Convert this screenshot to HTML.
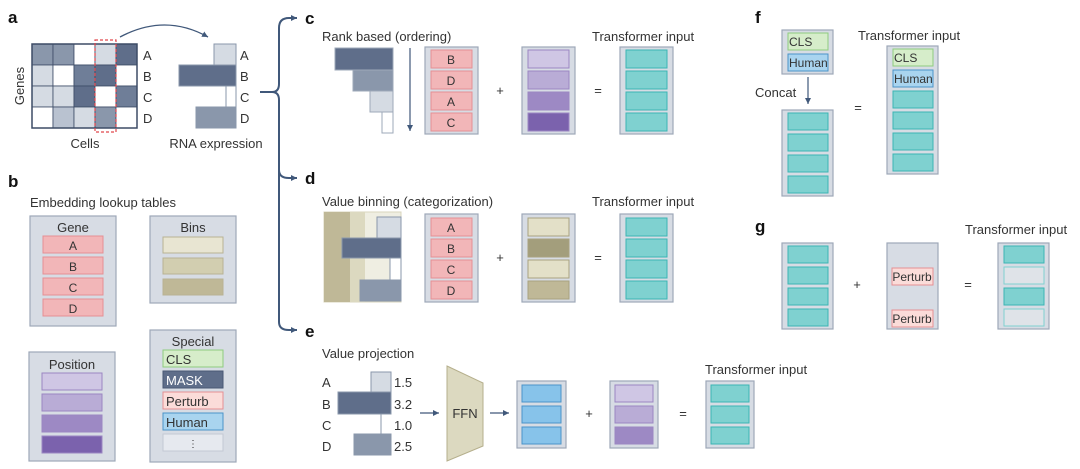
<!DOCTYPE html>
<html><head><meta charset="utf-8"><style>
html,body{margin:0;padding:0;background:#fff}
svg{display:block}
text{font-family:"Liberation Sans",sans-serif;fill:#333}
.t{font-size:13px}
.L{font-size:17px;font-weight:bold;fill:#111}
.box{fill:#d7dce4;stroke:#9ea8b8;stroke-width:1.2}
.pk{fill:#f2b6b8;stroke:#e58f93;stroke-width:1}
.tl{fill:#7fd1d0;stroke:#3bb5b3;stroke-width:1}
.s{font-size:12px;text-anchor:middle}
</style></head><body>
<svg width="1080" height="469" viewBox="0 0 1080 469" xmlns="http://www.w3.org/2000/svg">
<defs><marker id="ar" markerUnits="userSpaceOnUse" markerWidth="8" markerHeight="8" refX="6" refY="4" orient="auto"><path d="M0,1 L6,4 L0,7 z" fill="#40587a"/></marker></defs>

<!-- a -->
<text x="8" y="23" class="L">a</text>
<g stroke="#3d4c66" stroke-width="0.8">
<rect x="32" y="44" width="21" height="21" fill="#8a97ab"/><rect x="53" y="44" width="21" height="21" fill="#8a97ab"/><rect x="74" y="44" width="21" height="21" fill="#fff"/><rect x="95" y="44" width="21" height="21" fill="#d5dbe3"/><rect x="116" y="44" width="21" height="21" fill="#5f6e8a"/>
<rect x="32" y="65" width="21" height="21" fill="#d5dbe3"/><rect x="53" y="65" width="21" height="21" fill="#fff"/><rect x="74" y="65" width="21" height="21" fill="#6f7e98"/><rect x="95" y="65" width="21" height="21" fill="#5f6e8a"/><rect x="116" y="65" width="21" height="21" fill="#fff"/>
<rect x="32" y="86" width="21" height="21" fill="#d5dbe3"/><rect x="53" y="86" width="21" height="21" fill="#d5dbe3"/><rect x="74" y="86" width="21" height="21" fill="#5f6e8a"/><rect x="95" y="86" width="21" height="21" fill="#fff"/><rect x="116" y="86" width="21" height="21" fill="#6f7e98"/>
<rect x="32" y="107" width="21" height="21" fill="#fff"/><rect x="53" y="107" width="21" height="21" fill="#b9c2d0"/><rect x="74" y="107" width="21" height="21" fill="#d5dbe3"/><rect x="95" y="107" width="21" height="21" fill="#8a97ab"/><rect x="116" y="107" width="21" height="21" fill="#fff"/>
</g>
<rect x="32" y="44" width="105" height="84" fill="none" stroke="#3d4c66" stroke-width="1.5"/>
<rect x="95" y="40" width="21" height="92" fill="none" stroke="#e0474c" stroke-width="1.2" stroke-dasharray="3,2"/>
<text x="143" y="60" class="t">A</text><text x="143" y="81" class="t">B</text><text x="143" y="102" class="t">C</text><text x="143" y="123" class="t">D</text>
<text x="24" y="86" class="t" transform="rotate(-90 24 86)" text-anchor="middle">Genes</text>
<text x="85" y="148" class="t" text-anchor="middle">Cells</text>
<path d="M120,37 Q165,13 208,37" fill="none" stroke="#40587a" stroke-width="1.3" marker-end="url(#ar)"/>
<g stroke="#8a97ab" stroke-width="1">
<rect x="214" y="44" width="22" height="21" fill="#d5dbe3"/>
<rect x="179" y="65" width="57" height="21" fill="#5f6e8a"/>
<rect x="226" y="86" width="10" height="21" fill="#fff"/>
<rect x="196" y="107" width="40" height="21" fill="#8a97ab"/>
</g>
<text x="240" y="60" class="t">A</text><text x="240" y="81" class="t">B</text><text x="240" y="102" class="t">C</text><text x="240" y="123" class="t">D</text>
<text x="216" y="148" class="t" text-anchor="middle">RNA expression</text>

<!-- brace -->
<g fill="none" stroke="#40587a" stroke-width="2">
<path d="M260,92 L272,92 Q279,92 279,84 L279,28 Q279,18 289,18 L297,18" marker-end="url(#ar)"/>
<path d="M272,92 Q279,92 279,100 L279,170 Q279,178 289,178 L297,178" marker-end="url(#ar)"/>
<path d="M279,170 L279,322 Q279,330 289,330 L297,330" marker-end="url(#ar)"/>
</g>

<!-- c -->
<text x="305" y="24" class="L">c</text>
<text x="322" y="41" class="t">Rank based (ordering)</text>
<g stroke="#9ea8b8" stroke-width="1">
<rect x="335" y="48" width="58" height="22" fill="#5f6e8a"/>
<rect x="353" y="70" width="40" height="21" fill="#8a97ab"/>
<rect x="370" y="91" width="23" height="21" fill="#d5dbe3"/>
<rect x="382" y="112" width="11" height="21" fill="#fff"/>
</g>
<line x1="410" y1="48" x2="410" y2="131" stroke="#40587a" stroke-width="1.2" marker-end="url(#ar)"/>
<rect x="425" y="47" width="53" height="87" class="box"/>
<rect x="431" y="50" width="41" height="18" class="pk"/><rect x="431" y="71" width="41" height="18" class="pk"/><rect x="431" y="92" width="41" height="18" class="pk"/><rect x="431" y="113" width="41" height="18" class="pk"/>
<text x="451" y="64" class="s">B</text><text x="451" y="85" class="s">D</text><text x="451" y="106" class="s">A</text><text x="451" y="127" class="s">C</text>
<text x="500" y="95" class="t" text-anchor="middle">+</text>
<rect x="522" y="47" width="53" height="87" class="box"/>
<g stroke="#9b86c2" stroke-width="1"><rect x="528" y="50" width="41" height="18" fill="#cfc6e4"/><rect x="528" y="71" width="41" height="18" fill="#b9acd6"/><rect x="528" y="92" width="41" height="18" fill="#9d89c4"/><rect x="528" y="113" width="41" height="18" fill="#7b62ad"/></g>
<text x="598" y="95" class="t" text-anchor="middle">=</text>
<text x="592" y="41" class="t">Transformer input</text>
<rect x="620" y="47" width="53" height="87" class="box"/>
<rect x="626" y="50" width="41" height="18" class="tl"/><rect x="626" y="71" width="41" height="18" class="tl"/><rect x="626" y="92" width="41" height="18" class="tl"/><rect x="626" y="113" width="41" height="18" class="tl"/>

<!-- d -->
<text x="305" y="184" class="L">d</text>
<text x="322" y="206" class="t">Value binning (categorization)</text>
<rect x="324" y="212" width="77" height="90" fill="#efeee2" stroke="#d8d5bd"/>
<rect x="324" y="212" width="26" height="90" fill="#bfb897"/>
<rect x="350" y="212" width="15" height="90" fill="#dcd9c0"/>
<g stroke="#8a97ab" stroke-width="1">
<rect x="377" y="217" width="24" height="21" fill="#d5dbe3"/>
<rect x="342" y="238" width="59" height="20" fill="#5f6e8a"/>
<rect x="390" y="258" width="11" height="22" fill="#fff"/>
<rect x="360" y="280" width="41" height="21" fill="#8a97ab"/>
</g>
<rect x="425" y="214" width="53" height="88" class="box"/>
<rect x="431" y="218" width="41" height="18" class="pk"/><rect x="431" y="239" width="41" height="18" class="pk"/><rect x="431" y="260" width="41" height="18" class="pk"/><rect x="431" y="281" width="41" height="18" class="pk"/>
<text x="451" y="232" class="s">A</text><text x="451" y="253" class="s">B</text><text x="451" y="274" class="s">C</text><text x="451" y="295" class="s">D</text>
<text x="500" y="262" class="t" text-anchor="middle">+</text>
<rect x="522" y="214" width="53" height="88" class="box"/>
<g stroke="#a8a27f" stroke-width="1"><rect x="528" y="218" width="41" height="18" fill="#e3e0c8"/><rect x="528" y="239" width="41" height="18" fill="#a39e7c"/><rect x="528" y="260" width="41" height="18" fill="#e3e0c8"/><rect x="528" y="281" width="41" height="18" fill="#bfb897"/></g>
<text x="598" y="262" class="t" text-anchor="middle">=</text>
<text x="592" y="206" class="t">Transformer input</text>
<rect x="620" y="214" width="53" height="88" class="box"/>
<rect x="626" y="218" width="41" height="18" class="tl"/><rect x="626" y="239" width="41" height="18" class="tl"/><rect x="626" y="260" width="41" height="18" class="tl"/><rect x="626" y="281" width="41" height="18" class="tl"/>

<!-- e -->
<text x="305" y="337" class="L">e</text>
<text x="322" y="358" class="t">Value projection</text>
<text x="322" y="387" class="t">A</text><text x="322" y="409" class="t">B</text><text x="322" y="430" class="t">C</text><text x="322" y="451" class="t">D</text>
<g stroke="#8a97ab" stroke-width="1">
<rect x="371" y="372" width="20" height="20" fill="#d5dbe3"/>
<rect x="338" y="392" width="53" height="22" fill="#5f6e8a"/>
<line x1="381" y1="414" x2="381" y2="434"/>
<rect x="354" y="434" width="37" height="21" fill="#8a97ab"/>
</g>
<text x="394" y="387" class="t">1.5</text><text x="394" y="409" class="t">3.2</text><text x="394" y="430" class="t">1.0</text><text x="394" y="451" class="t">2.5</text>
<line x1="420" y1="413" x2="439" y2="413" stroke="#40587a" stroke-width="1.2" marker-end="url(#ar)"/>
<path d="M447,366 L483,383 L483,446 L447,461 Z" fill="#dcd9c0" stroke="#b5af8c"/>
<text x="465" y="418" class="t" text-anchor="middle">FFN</text>
<line x1="490" y1="413" x2="509" y2="413" stroke="#40587a" stroke-width="1.2" marker-end="url(#ar)"/>
<rect x="517" y="381" width="49" height="67" class="box"/>
<g fill="#87c3ea" stroke="#4b93c9"><rect x="522" y="385" width="39" height="17"/><rect x="522" y="406" width="39" height="17"/><rect x="522" y="427" width="39" height="17"/></g>
<text x="589" y="418" class="t" text-anchor="middle">+</text>
<rect x="610" y="381" width="48" height="67" class="box"/>
<g stroke="#9b86c2"><rect x="615" y="385" width="38" height="17" fill="#cfc6e4"/><rect x="615" y="406" width="38" height="17" fill="#b9acd6"/><rect x="615" y="427" width="38" height="17" fill="#9d89c4"/></g>
<text x="683" y="418" class="t" text-anchor="middle">=</text>
<text x="705" y="374" class="t">Transformer input</text>
<rect x="706" y="381" width="48" height="67" class="box"/>
<rect x="711" y="385" width="38" height="17" class="tl"/><rect x="711" y="406" width="38" height="17" class="tl"/><rect x="711" y="427" width="38" height="17" class="tl"/>

<!-- b -->
<text x="8" y="187" class="L">b</text>
<text x="30" y="207" class="t">Embedding lookup tables</text>
<rect x="30" y="216" width="86" height="110" class="box"/>
<text x="73" y="232" class="t" text-anchor="middle">Gene</text>
<rect x="43" y="236" width="60" height="17" class="pk"/><rect x="43" y="257" width="60" height="17" class="pk"/><rect x="43" y="278" width="60" height="17" class="pk"/><rect x="43" y="299" width="60" height="17" class="pk"/>
<text x="73" y="250" class="s">A</text><text x="73" y="271" class="s">B</text><text x="73" y="292" class="s">C</text><text x="73" y="313" class="s">D</text>
<rect x="150" y="216" width="86" height="87" class="box"/>
<text x="193" y="232" class="t" text-anchor="middle">Bins</text>
<g stroke="#b8b293"><rect x="163" y="237" width="60" height="16" fill="#e8e5d2"/><rect x="163" y="258" width="60" height="16" fill="#d2ceb0"/><rect x="163" y="279" width="60" height="16" fill="#bfb897"/></g>
<rect x="29" y="352" width="86" height="109" class="box"/>
<text x="72" y="369" class="t" text-anchor="middle">Position</text>
<g stroke="#9b86c2"><rect x="42" y="373" width="60" height="17" fill="#cfc6e4"/><rect x="42" y="394" width="60" height="17" fill="#b9acd6"/><rect x="42" y="415" width="60" height="17" fill="#9d89c4"/><rect x="42" y="436" width="60" height="17" fill="#7b62ad"/></g>
<rect x="150" y="330" width="86" height="132" class="box"/>
<text x="193" y="346" class="t" text-anchor="middle">Special</text>
<rect x="163" y="350" width="60" height="17" fill="#d6edca" stroke="#8fcc7f"/>
<rect x="163" y="371" width="60" height="17" fill="#5f6e8a" stroke="#4a5874"/>
<rect x="163" y="392" width="60" height="17" fill="#fbdcd9" stroke="#e58f93"/>
<rect x="163" y="413" width="60" height="17" fill="#a9d4ef" stroke="#4b93c9"/>
<rect x="163" y="434" width="60" height="17" fill="#e6e9ef" stroke="#c3c9d3"/>
<text x="166" y="364" class="t">CLS</text>
<text x="166" y="385" class="t" style="fill:#fff">MASK</text>
<text x="166" y="406" class="t">Perturb</text>
<text x="166" y="427" class="t">Human</text>
<text x="193" y="447" class="s" style="font-size:10px">⋮</text>

<!-- f -->
<text x="755" y="23" class="L">f</text>
<rect x="782" y="30" width="51" height="44" class="box"/>
<rect x="788" y="33" width="40" height="17" fill="#d6edca" stroke="#8fcc7f"/>
<rect x="788" y="54" width="40" height="17" fill="#a9d4ef" stroke="#4b93c9"/>
<text x="789" y="46" class="t" style="font-size:12px">CLS</text>
<text x="789" y="67" class="t" style="font-size:12px">Human</text>
<line x1="808" y1="77" x2="808" y2="104" stroke="#40587a" stroke-width="1.2" marker-end="url(#ar)"/>
<text x="755" y="97" class="t">Concat</text>
<rect x="782" y="110" width="51" height="86" class="box"/>
<rect x="788" y="113" width="40" height="17" class="tl"/><rect x="788" y="134" width="40" height="17" class="tl"/><rect x="788" y="155" width="40" height="17" class="tl"/><rect x="788" y="176" width="40" height="17" class="tl"/>
<text x="858" y="112" class="t" text-anchor="middle">=</text>
<text x="858" y="40" class="t">Transformer input</text>
<rect x="887" y="46" width="51" height="128" class="box"/>
<rect x="893" y="49" width="40" height="17" fill="#d6edca" stroke="#8fcc7f"/>
<rect x="893" y="70" width="40" height="17" fill="#a9d4ef" stroke="#4b93c9"/>
<text x="894" y="62" class="t" style="font-size:12px">CLS</text>
<text x="894" y="83" class="t" style="font-size:12px">Human</text>
<rect x="893" y="91" width="40" height="17" class="tl"/><rect x="893" y="112" width="40" height="17" class="tl"/><rect x="893" y="133" width="40" height="17" class="tl"/><rect x="893" y="154" width="40" height="17" class="tl"/>

<!-- g -->
<text x="755" y="232" class="L">g</text>
<rect x="782" y="243" width="51" height="86" class="box"/>
<rect x="788" y="246" width="40" height="17" class="tl"/><rect x="788" y="267" width="40" height="17" class="tl"/><rect x="788" y="288" width="40" height="17" class="tl"/><rect x="788" y="309" width="40" height="17" class="tl"/>
<text x="857" y="289" class="t" text-anchor="middle">+</text>
<rect x="887" y="243" width="51" height="86" class="box"/>
<rect x="892" y="268" width="41" height="17" fill="#fbdcd9" stroke="#e58f93"/>
<rect x="892" y="310" width="41" height="17" fill="#fbdcd9" stroke="#e58f93"/>
<text x="912" y="281" class="s">Perturb</text>
<text x="912" y="323" class="s">Perturb</text>
<text x="968" y="289" class="t" text-anchor="middle">=</text>
<text x="965" y="234" class="t">Transformer input</text>
<rect x="998" y="243" width="51" height="86" class="box"/>
<rect x="1004" y="246" width="40" height="17" class="tl"/>
<rect x="1004" y="267" width="40" height="17" fill="#dfe3e8" stroke="#7fd1d0"/>
<rect x="1004" y="288" width="40" height="17" class="tl"/>
<rect x="1004" y="309" width="40" height="17" fill="#dfe3e8" stroke="#7fd1d0"/>
</svg>
</body></html>
